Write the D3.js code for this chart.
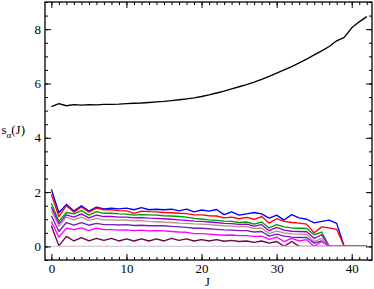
<!DOCTYPE html>
<html><head><meta charset="utf-8">
<script src="https://cdn.jsdelivr.net/npm/d3@7"></script>
<style>body{margin:0;background:#fff}svg{display:block}</style>
</head><body>
<svg id="chart" width="374" height="289"></svg>
<script>
// ---- data ----
const J = d3.range(0, 43);
const sBlack   = [5.15,5.26,5.18,5.22,5.20,5.22,5.21,5.23,5.23,5.24,5.26,5.27,5.28,5.30,5.32,5.34,5.37,5.40,5.43,5.47,5.52,5.58,5.65,5.72,5.80,5.88,5.96,6.05,6.15,6.26,6.38,6.50,6.62,6.76,6.90,7.05,7.20,7.36,7.57,7.70,8.05,8.27,8.46];
const sBlue    = [2.10,1.24,1.55,1.30,1.50,1.30,1.45,1.38,1.41,1.38,1.41,1.35,1.43,1.35,1.37,1.35,1.37,1.31,1.37,1.27,1.34,1.30,1.36,1.17,1.27,1.15,1.20,1.25,1.20,1.04,1.15,0.97,1.17,1.05,1.00,0.87,0.92,0.97,0.85,0,0,0,0];
const sRed     = [1.92,1.10,1.50,1.26,1.45,1.26,1.41,1.35,1.35,1.32,1.31,1.22,1.30,1.28,1.27,1.25,1.24,1.22,1.21,1.16,1.16,1.13,1.12,1.05,1.08,1.02,1.07,1.00,1.10,0.86,1.02,0.92,0.88,0.86,0.82,0.50,0.72,0.68,0.63,0,0,0,0];
const sGreen   = [1.59,0.92,1.25,1.20,1.32,1.15,1.28,1.22,1.22,1.20,1.19,1.15,1.17,1.16,1.15,1.13,1.12,1.10,1.08,1.03,1.01,0.98,0.96,0.93,0.92,0.88,0.90,0.82,0.90,0.68,0.80,0.72,0.68,0.67,0.66,0.43,0.53,0,0,0,0,0,0];
const sViolet  = [1.45,0.83,1.16,1.08,1.20,1.05,1.15,1.10,1.10,1.08,1.08,1.05,1.06,1.04,1.03,1.02,1.00,0.98,0.96,0.93,0.92,0.90,0.88,0.85,0.84,0.81,0.82,0.75,0.80,0.58,0.70,0.60,0.56,0.55,0.54,0.30,0.43,0,0,0,0,0,0];
const sBrown   = [1.32,0.74,1.08,0.98,1.08,0.96,1.03,0.98,0.98,0.97,0.98,0.94,0.95,0.92,0.91,0.89,0.88,0.86,0.85,0.83,0.82,0.80,0.78,0.76,0.75,0.73,0.73,0.66,0.68,0.47,0.56,0.50,0.46,0.45,0.44,0.18,0.30,0,0,0,0,0,0];
const sIndigo  = [1.13,0.55,0.88,0.78,0.88,0.78,0.85,0.80,0.80,0.79,0.80,0.77,0.78,0.76,0.76,0.76,0.74,0.72,0.70,0.67,0.67,0.65,0.63,0.61,0.60,0.58,0.58,0.53,0.55,0.38,0.45,0.38,0.34,0.33,0.33,0.12,0.20,0,0,0,0,0,0];
const sMagenta = [0.92,0.34,0.67,0.62,0.68,0.58,0.67,0.62,0.62,0.60,0.61,0.58,0.60,0.57,0.58,0.57,0.55,0.53,0.52,0.47,0.47,0.45,0.43,0.41,0.42,0.40,0.40,0.37,0.38,0.26,0.34,0.18,0.30,0.20,0.25,0,0.18,0,0,0,0,0,0];
const sMaroon  = [0.76,0.02,0.37,0.20,0.32,0.20,0.30,0.22,0.30,0.20,0.28,0.20,0.28,0.20,0.28,0.20,0.30,0.22,0.28,0.20,0.25,0.20,0.25,0.19,0.22,0.18,0.20,0.15,0.20,0.12,0.18,0,0.18,0,0,0,0,0,0,0,0,0,0];
const sGrey    = [0,0,0,0,0,0,0,0,0,0,0,0,0,0,0,0,0,0,0,0,0,0,0,0,0,0,0,0,0,0,0,0,0,0,0,0,0,0,0,0,0,0,0];
const seriesList = [sBlack, sBlue, sRed, sGreen, sViolet, sBrown, sIndigo, sMagenta, sMaroon, sGrey];
const seriesColors = ["#000000","#0000ff","#ff0000","#009a00","#9400d3","#bc8f8f","#7221bc","#ff00ff","#670748","#d4c8d4"];
const xMajor = [0,10,20,30,40];
const xMinor = d3.range(0, 43);
const yMajor = [0,2,4,6,8];
const yMinor = d3.range(-0.5, 9.01, 0.5);

// ---- layout ----
const svg = d3.select("#chart");
const L = 45, R = 372, T = 2, B = 260;
const x = d3.scaleLinear().domain([-0.85, 42.7]).range([L, R]);
const y = d3.scaleLinear().domain([-0.5, 9]).range([B, T]);
const font = "'Liberation Serif','Times New Roman',serif";

const line = d3.line().x((d,i) => x(J[i])).y(d => y(d));
svg.append("g").selectAll("path").data(seriesList).join("path")
  .attr("d", d => line(d))
  .attr("fill", "none")
  .attr("stroke", (d,i) => seriesColors[i])
  .attr("stroke-width", 1.35)
  .attr("stroke-linejoin", "round");

function styleAxis(g) {
  g.select(".domain").remove();
  g.selectAll("line").attr("stroke", "#000").attr("stroke-width", 1);
  g.selectAll("text").attr("font-family", font).attr("font-size", 13).attr("fill", "#000");
}
// bottom
svg.append("g").attr("transform", `translate(0,${B})`)
  .call(d3.axisBottom(x).tickValues(xMinor).tickSize(-3).tickFormat("")).call(styleAxis);
svg.append("g").attr("transform", `translate(0,${B})`)
  .call(d3.axisBottom(x).tickValues(xMajor).tickSize(-6).tickPadding(3.5).tickFormat(d3.format("d"))).call(styleAxis);
// top
svg.append("g").attr("transform", `translate(0,${T})`)
  .call(d3.axisTop(x).tickValues(xMinor).tickSize(-3).tickFormat("")).call(styleAxis);
svg.append("g").attr("transform", `translate(0,${T})`)
  .call(d3.axisTop(x).tickValues(xMajor).tickSize(-6).tickFormat("")).call(styleAxis);
// left
svg.append("g").attr("transform", `translate(${L},0)`)
  .call(d3.axisLeft(y).tickValues(yMinor).tickSize(-3).tickFormat("")).call(styleAxis);
svg.append("g").attr("transform", `translate(${L},0)`)
  .call(d3.axisLeft(y).tickValues(yMajor).tickSize(-6).tickPadding(4).tickFormat(d3.format("d"))).call(styleAxis);
// right
svg.append("g").attr("transform", `translate(${R},0)`)
  .call(d3.axisRight(y).tickValues(yMinor).tickSize(-3).tickFormat("")).call(styleAxis);
svg.append("g").attr("transform", `translate(${R},0)`)
  .call(d3.axisRight(y).tickValues(yMajor).tickSize(-6).tickFormat("")).call(styleAxis);

// frame
svg.append("rect").attr("x", L).attr("y", T).attr("width", R - L).attr("height", B - T)
  .attr("fill", "none").attr("stroke", "#000").attr("stroke-width", 1.3);

// axis titles
svg.append("text").attr("x", (L + R) / 2 - 1).attr("y", 286.3).attr("text-anchor", "middle")
  .attr("font-family", font).attr("font-size", 12.5).text("J");
const yl = svg.append("text").attr("x", 1.5).attr("y", 133.5)
  .attr("font-family", font).attr("font-size", 13);
yl.append("tspan").text("s");
yl.append("tspan").attr("font-size", 9).attr("dy", 4).text("α");
yl.append("tspan").attr("dy", -4).text("(J)");
</script>
</body></html>
